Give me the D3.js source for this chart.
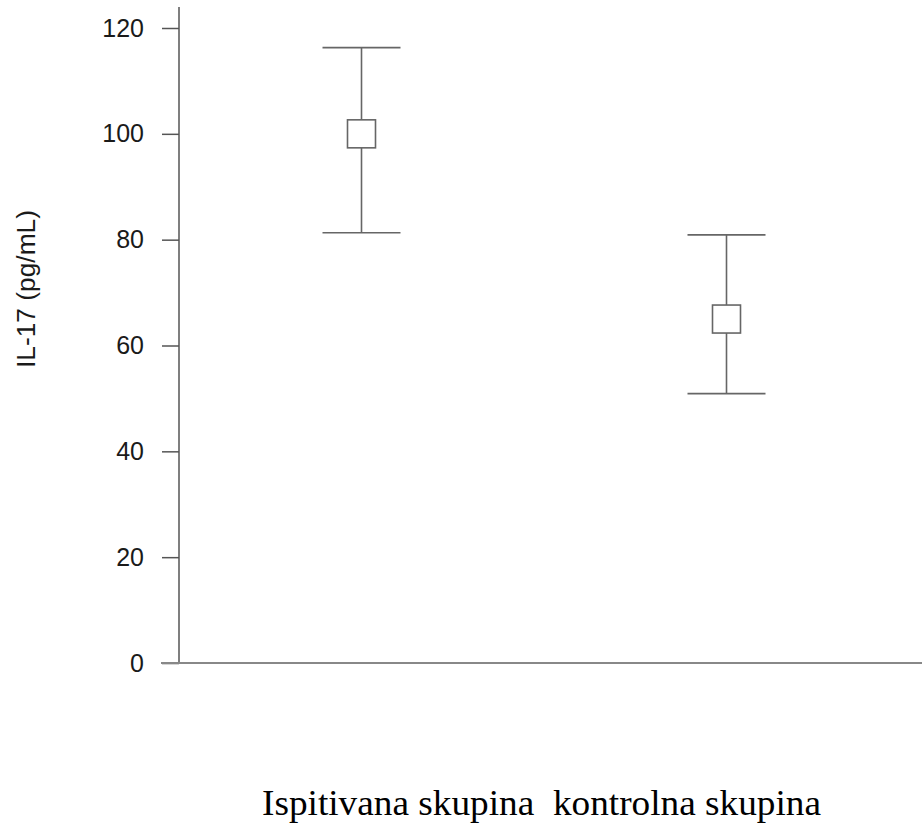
<!DOCTYPE html>
<html>
<head>
<meta charset="utf-8">
<script src="https://cdn.jsdelivr.net/npm/d3@7"></script>
<style>
  body { margin: 0; background: #fff; }
  svg { display: block; }
</style>
</head>
<body>
<svg id="chart"></svg>
<script>
// IL-17 values (mean with error bar ends)
const groups = ["Ispitivana skupina", "kontrolna skupina"];
const means = [100, 65];
const upper = [116.3, 80.9];
const lower = [81.3, 50.9];
const yTicks = [0, 20, 40, 60, 80, 100, 120];
const yLabel = "IL-17 (pg/mL)";
const xLabel = "Ispitivana skupina  kontrolna skupina";

const width = 922, height = 824;

const svg = d3.select('#chart')
  .attr('width', width)
  .attr('height', height);

const y = d3.scaleLinear()
  .domain([0, 120])
  .range([663, 28]);

const x = d3.scaleBand()
  .domain(groups)
  .range([179, 909]);

const axisColor = "#555";

// y axis
const yAxis = svg.append("g")
  .attr("transform", "translate(179,0)")
  .call(d3.axisLeft(y).tickValues(yTicks).tickSize(17).tickPadding(18));

yAxis.select(".domain").remove();
yAxis.selectAll(".tick line").attr("stroke", axisColor).attr("stroke-width", 1.5);
yAxis.selectAll(".tick text")
  .attr("fill", "#1a1a1a")
  .attr("font-family", "Liberation Sans, Arial, sans-serif")
  .attr("font-size", 25);

svg.append("line")
  .attr("x1", 179).attr("x2", 179)
  .attr("y1", 7).attr("y2", y(0))
  .attr("stroke", axisColor)
  .attr("stroke-width", 1.5);

// baseline
svg.append("line")
  .attr("x1", 161).attr("x2", width)
  .attr("y1", y(0)).attr("y2", y(0))
  .attr("stroke", "#888")
  .attr("stroke-width", 2.2);

// error bars
const cx = d => x(d) + x.bandwidth() / 2;
const capHalf = 39, boxSize = 28;

const bars = svg.append("g").selectAll("g")
  .data(groups)
  .enter()
  .append("g")
  .attr("stroke", "#666")
  .attr("stroke-width", 1.6)
  .attr("fill", "none");

bars.append("line")
  .attr("x1", d => cx(d)).attr("x2", d => cx(d))
  .attr("y1", (d, i) => y(upper[i])).attr("y2", (d, i) => y(lower[i]));

bars.append("line")
  .attr("x1", d => cx(d) - capHalf).attr("x2", d => cx(d) + capHalf)
  .attr("y1", (d, i) => y(upper[i])).attr("y2", (d, i) => y(upper[i]));

bars.append("line")
  .attr("x1", d => cx(d) - capHalf).attr("x2", d => cx(d) + capHalf)
  .attr("y1", (d, i) => y(lower[i])).attr("y2", (d, i) => y(lower[i]));

bars.append("rect")
  .attr("x", d => cx(d) - boxSize / 2)
  .attr("y", (d, i) => y(means[i]) - boxSize / 2)
  .attr("width", boxSize)
  .attr("height", boxSize)
  .attr("fill", "#fff");

// y label
svg.append("text")
  .attr("transform", "translate(35,289) rotate(-90)")
  .attr("text-anchor", "middle")
  .attr("fill", "#1a1a1a")
  .attr("font-family", "Liberation Sans, Arial, sans-serif")
  .attr("font-size", 25)
  .attr("textLength", 158)
  .attr("lengthAdjust", "spacingAndGlyphs")
  .text(yLabel);

// category labels under the chart
svg.append("text")
  .attr("x", 262)
  .attr("y", 815)
  .attr("fill", "#000")
  .attr("font-family", "Liberation Serif, Times New Roman, serif")
  .attr("font-size", 35)
  .attr("textLength", 559)
  .attr("lengthAdjust", "spacingAndGlyphs")
  .style("white-space", "pre")
  .text(xLabel);
</script>
</body>
</html>
